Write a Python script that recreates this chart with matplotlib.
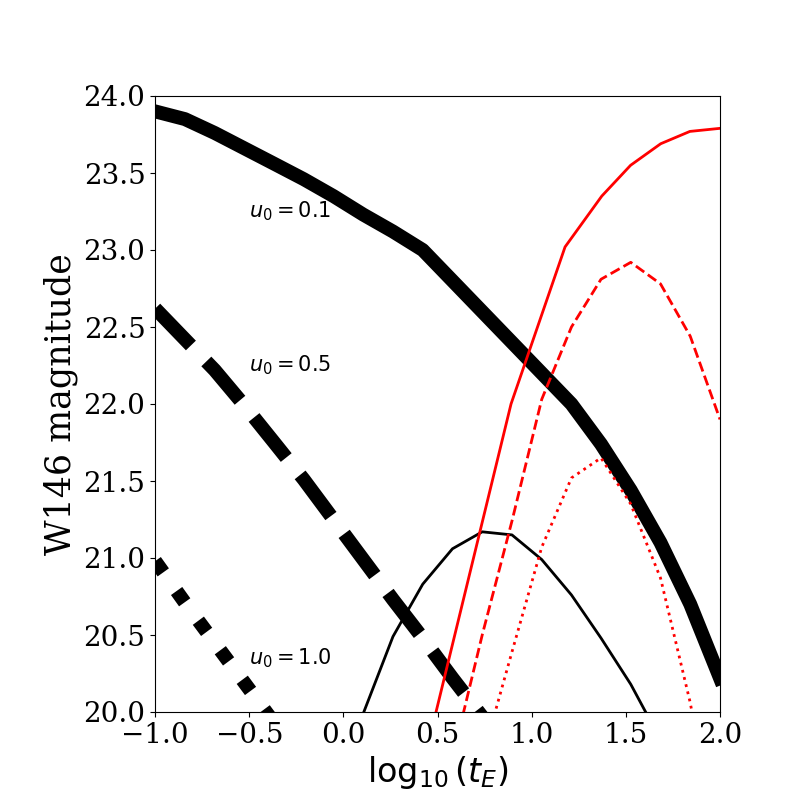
import numpy as np
from matplotlib import pyplot as plt

plt.rcParams['font.family'] = 'serif'
plt.rcParams['mathtext.fontset'] = 'dejavusans'

# log10(tE) sampling grid
log_tE = [-1.0, -0.842, -0.684, -0.526, -0.368, -0.211, -0.053, 0.105, 0.263, 0.421,
          0.579, 0.737, 0.895, 1.053, 1.211, 1.368, 1.526, 1.684, 1.842, 2.0]

# thick black curves, one per impact parameter
mag_u01 = [23.90, 23.85, 23.76, 23.66, 23.56, 23.46, 23.35, 23.23, 23.12, 23.00,
           22.80, 22.60, 22.40, 22.20, 22.00, 21.74, 21.44, 21.10, 20.70, 20.22]
mag_u05 = [22.62, 22.42, 22.22, 21.99, 21.75, 21.51, 21.25, 20.99, 20.73, 20.48,
           20.22, 19.97, 19.72]
mag_u10 = [20.98, 20.71, 20.45, 20.19, 19.93, 19.67]

# thin black curve
x_thin = [-0.053, 0.105, 0.263, 0.421, 0.579, 0.737, 0.895, 1.053, 1.211, 1.368, 1.526, 1.684]
mag_thin = [19.45, 19.99, 20.49, 20.83, 21.06, 21.17, 21.15, 20.99, 20.76, 20.48, 20.18, 19.82]

# red curves
x_red_solid = [0.40, 0.89, 1.177, 1.372, 1.525, 1.685, 1.84, 2.0]
mag_red_solid = [19.54, 22.00, 23.02, 23.35, 23.55, 23.69, 23.77, 23.79]

x_red_dash = [0.579, 0.737, 0.895, 1.053, 1.211, 1.368, 1.526, 1.684, 1.842, 2.0]
mag_red_dash = [19.70, 20.50, 21.24, 22.03, 22.50, 22.81, 22.92, 22.78, 22.44, 21.90]

x_red_dot = [0.737, 0.895, 1.053, 1.211, 1.368, 1.526, 1.684, 1.842, 2.0]
mag_red_dot = [19.70, 20.39, 21.07, 21.52, 21.65, 21.35, 20.87, 20.06, 19.0]

labels = [r'$u_0=0.1$', r'$u_0=0.5$', r'$u_0=1.0$']
label_y = [23.25, 22.25, 20.35]

fig = plt.figure(figsize=(8, 8), dpi=100)
ax = fig.add_axes([0.194, 0.11, 0.706, 0.77])

ax.plot(log_tE, mag_u01, 'k-', lw=10)
ax.plot(log_tE[:len(mag_u05)], mag_u05, 'k--', lw=10)
ax.plot(log_tE[:len(mag_u10)], mag_u10, 'k:', lw=10)
ax.plot(x_thin, mag_thin, 'k-', lw=2)
ax.plot(x_red_solid, mag_red_solid, 'r-', lw=2)
ax.plot(x_red_dash, mag_red_dash, 'r--', lw=2)
ax.plot(x_red_dot, mag_red_dot, 'r:', lw=2)

for lab, yy in zip(labels, label_y):
    ax.text(-0.5, yy, lab, fontsize=15, va='center', family='DejaVu Sans')

ax.set_xlim(-1, 2)
ax.set_ylim(20, 24)
ax.set_xticks(np.arange(-1.0, 2.01, 0.5))
ax.set_yticks(np.arange(20.0, 24.01, 0.5))
ax.tick_params(labelsize=20)
ax.set_xlabel(r'$\log_{10}(t_E)$', fontsize=24)
ax.set_ylabel('W146 magnitude', fontsize=25)

plt.savefig('out.png')
